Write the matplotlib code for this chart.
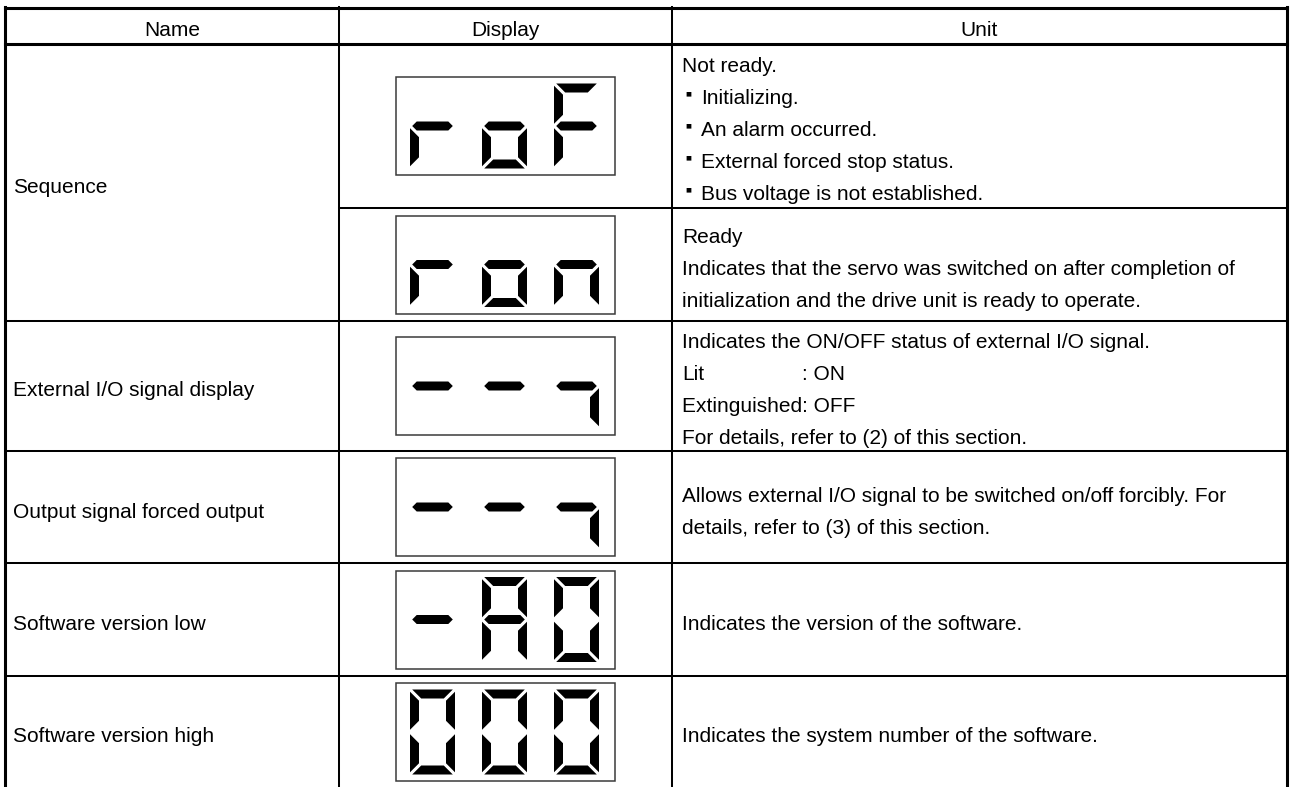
import matplotlib
matplotlib.use("Agg")
import matplotlib.pyplot as plt
from matplotlib.patches import Polygon, Rectangle

plt.rcParams['font.family'] = ['Liberation Sans', 'DejaVu Sans']

# ---- table content ----
headers = ["Name", "Display", "Unit"]
names = ["Sequence", "External I/O signal display", "Output signal forced output",
         "Software version low", "Software version high"]
# one entry per display cell (Sequence has two)
displays = ["roF", "ron", "--7", "--7", "-A0", "000"]
units = [
    ["Not ready.", "*Initializing.", "*An alarm occurred.",
     "*External forced stop status.", "*Bus voltage is not established."],
    ["Ready",
     "Indicates that the servo was switched on after completion of",
     "initialization and the drive unit is ready to operate."],
    ["Indicates the ON/OFF status of external I/O signal.",
     "Lit\t: ON", "Extinguished: OFF",
     "For details, refer to (2) of this section."],
    ["Allows external I/O signal to be switched on/off forcibly. For",
     "details, refer to (3) of this section."],
    ["Indicates the version of the software."],
    ["Indicates the system number of the software."],
]

# seven segment codes
seg_map = {
    'r': 'eg', 'o': 'cdeg', 'F': 'aefg', 'n': 'ceg', '-': 'g',
    '7': 'cg', 'A': 'abcefg', '0': 'abcdef',
}

# ---- layout (pixels) ----
W, H = 1292, 787
col_x = [5, 339, 672, 1287]
top_y, head_y = 8, 44
disp_rows = [(44, 208), (208, 321), (321, 451), (451, 563), (563, 676), (676, 788)]
name_rows = [(44, 321), (321, 451), (451, 563), (563, 676), (676, 788)]
fs = 15
line_gap = 32
cap_half = 7.5


def draw_segments(ax, L, T, w, h, segs, t=9, g=2.2):
    R, B = L + w, T + h
    M = (T + B) / 2
    shapes = {
        'a': [(L + g, T), (R - g, T), (R - g - t, T + t), (L + g + t, T + t)],
        'd': [(L + g, B), (R - g, B), (R - g - t, B - t), (L + g + t, B - t)],
        'g': [(L + g, M), (L + g + t / 2, M - t / 2), (R - g - t / 2, M - t / 2),
              (R - g, M), (R - g - t / 2, M + t / 2), (L + g + t / 2, M + t / 2)],
        'f': [(L, T + g), (L + t, T + t + g), (L + t, M - t - g), (L, M - g)],
        'e': [(L, M + g), (L + t, M + t + g), (L + t, B - t - g), (L, B - g)],
        'b': [(R, T + g), (R - t, T + t + g), (R - t, M - t - g), (R, M - g)],
        'c': [(R, M + g), (R - t, M + t + g), (R - t, B - t - g), (R, B - g)],
    }
    for s in segs:
        ax.add_patch(Polygon(shapes[s], closed=True, facecolor='black',
                             edgecolor='none'))


fig = plt.figure(figsize=(W / 100, H / 100), dpi=100)
ax = fig.add_axes([0, 0, 1, 1])
ax.set_xlim(0, W)
ax.set_ylim(H, 0)
ax.axis('off')

thick, thin = 2.2, 1.45

# grid lines
ax.plot([col_x[0], col_x[-1]], [top_y, top_y], color='black', lw=thick)
ax.plot([col_x[0], col_x[-1]], [head_y, head_y], color='black', lw=thick)
for x in col_x:
    lw = thick if x in (col_x[0], col_x[-1]) else thin
    ax.plot([x, x], [top_y - 1, H], color='black', lw=lw)
for y0, y1 in disp_rows[1:]:
    x_start = col_x[1] if y0 == 208 else col_x[0]
    ax.plot([x_start, col_x[-1]], [y0, y0], color='black', lw=thin)

# headers
for i, txt in enumerate(headers):
    cx = (col_x[i] + col_x[i + 1]) / 2
    ax.text(cx, (top_y + head_y) / 2 + 3 + cap_half, txt, fontsize=fs,
            ha='center', va='baseline')

# name column
for (y0, y1), txt in zip(name_rows, names):
    ax.text(col_x[0] + 8, (y0 + y1) / 2 + 3 + cap_half, txt, fontsize=fs,
            ha='left', va='baseline')

# width of "Extinguished" for the aligned colon
renderer = fig.canvas.get_renderer()
tmp = ax.text(0, 0, "Extinguished", fontsize=fs)
colon_dx = tmp.get_window_extent(renderer).width
tmp.remove()

# display + unit columns
box_w, box_h = 219, 98
dig_w, dig_h = 45, 85
for (y0, y1), code, lines in zip(disp_rows, displays, units):
    cy = (y0 + y1) / 2
    bx = (col_x[1] + col_x[2]) / 2 - box_w / 2
    ax.add_patch(Rectangle((bx, cy - box_h / 2), box_w, box_h, fill=False,
                           edgecolor='#3a3a3a', lw=1.1))
    for k, ch in enumerate(code):
        draw_segments(ax, bx + 14 + 72 * k, cy - dig_h / 2, dig_w, dig_h,
                      seg_map[ch])

    n = len(lines)
    tx = col_x[2] + 10
    for j, line in enumerate(lines):
        ly = cy + 3 + (j - (n - 1) / 2) * line_gap
        base = ly + cap_half
        if line.startswith('*'):
            ax.text(tx + 6, ly - 3, "\u25a0", fontsize=4.5, family='DejaVu Sans',
                    ha='center', va='center')
            ax.text(tx + 19, base, line[1:], fontsize=fs, va='baseline')
        elif '\t' in line:
            left, right = line.split('\t')
            ax.text(tx, base, left, fontsize=fs, va='baseline')
            ax.text(tx + colon_dx, base, right, fontsize=fs, va='baseline')
        else:
            ax.text(tx, base, line, fontsize=fs, va='baseline')

fig.savefig('out.png', dpi=100)
